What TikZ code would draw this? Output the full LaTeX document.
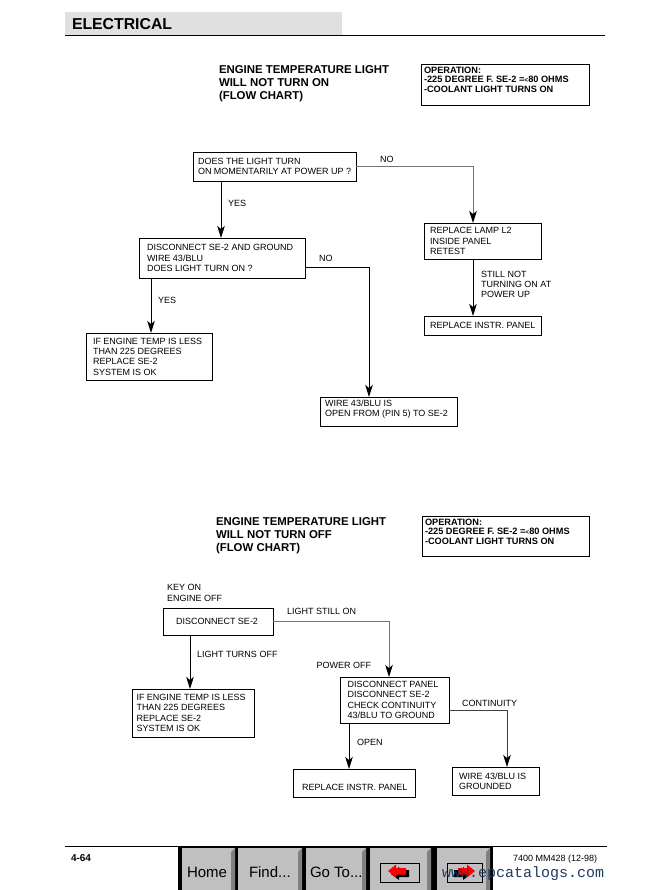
\documentclass[tikz,border=0pt]{standalone}
\usepackage{fontspec}
\setmainfont{Liberation Sans}
\newfontfamily\wmfont{Liberation Mono}
\usetikzlibrary{arrows.meta}
\definecolor{hdrgray}{HTML}{E0E0E0}
\definecolor{btngray}{HTML}{C0C0C0}
\definecolor{btndark}{HTML}{808080}
\definecolor{wmblue}{HTML}{1F3A5F}
\definecolor{arrred}{HTML}{FF0000}
\begin{document}
\begin{tikzpicture}[x=1pt,y=-1pt,
  every node/.style={inner sep=0pt, outer sep=0pt},
  txt/.style={font=\fontsize{9}{10.3}\selectfont, align=left},
  fbox/.style={draw, line width=0.9pt, anchor=north west},
  lbl/.style={txt, anchor=west},
  boxtext/.style={txt, anchor=west},
  ttl/.style={anchor=west, align=left, font=\fontsize{11.4}{13}\selectfont\bfseries},
  optext/.style={anchor=north west, align=left, font=\fontsize{9.2}{9.7}\selectfont\bfseries},
  tip/.style={-{Stealth[length=12pt,width=7.5pt,inset=3pt,color=black]}},
  conn/.style={line width=0.9pt, draw=black, tip},
  gconn/.style={line width=0.9pt, draw=black!55, tip},
  btnlabel/.style={anchor=base west, font=\fontsize{15}{15}\selectfont, text=black},
]
\useasboundingbox (0,0) rectangle (652,890);

% ---------- header ----------
\fill[hdrgray] (65,12) rectangle (342,35);
\node[anchor=base west, font=\fontsize{15.8}{16}\selectfont\bfseries] (hdr) at (72,29.5) {ELECTRICAL};
\draw[line width=1.2pt] (65,35.6) -- (605,35.6);

% ---------- chart 1 ----------
\node[ttl] (t1) at (219,84) {ENGINE TEMPERATURE LIGHT\\WILL NOT TURN ON\\(FLOW CHART)};
\node[fbox, minimum width=168pt, minimum height=41pt] (op1) at (421,64) {};
\node[optext] (op1t) at (424,66.6) {OPERATION:\\-225 DEGREE F. SE-2 ={\fontsize{6.5}{6.5}\selectfont<}80 OHMS\\-COOLANT LIGHT TURNS ON};

\node[fbox, minimum width=163pt, minimum height=29pt] (q1) at (193,152) {};
\node[boxtext] (q1t) at ([xshift=5pt]q1.west) {DOES THE LIGHT TURN\\ON MOMENTARILY AT POWER UP ?};

\node[fbox, minimum width=117pt, minimum height=36pt] (lamp) at (424,223) {};
\node[boxtext] (lampt) at ([xshift=6pt]lamp.west) {REPLACE LAMP L2\\INSIDE PANEL\\RETEST};

\node[fbox, minimum width=117pt, minimum height=19pt] (panel1) at (424,316) {};
\node[boxtext] (panel1t) at ([xshift=6pt]panel1.west) {REPLACE INSTR. PANEL};

\node[fbox, minimum width=166pt, minimum height=40pt] (q2) at (139,238) {};
\node[boxtext] (q2t) at ([xshift=8pt]q2.west) {DISCONNECT SE-2 AND GROUND\\WIRE 43/BLU\\DOES LIGHT TURN ON ?};

\node[fbox, minimum width=126pt, minimum height=47pt] (ok1) at (86,333) {};
\node[boxtext] (ok1t) at ([xshift=7pt]ok1.west) {IF ENGINE TEMP IS LESS\\THAN 225 DEGREES\\REPLACE SE-2\\SYSTEM IS OK};

\node[fbox, minimum width=137pt, minimum height=29pt] (open1) at (320,397) {};
\node[boxtext] (open1t) at ([xshift=5pt,yshift=2pt]open1.west) {WIRE 43/BLU IS\\OPEN FROM (PIN 5) TO SE-2};

\draw[gconn] (q1.east) -| ([xshift=49pt]lamp.north west);
\node[lbl] (no1) at (380,159) {NO};
\draw[conn] ([xshift=28pt]q1.south west) -- ([xshift=28pt]q1.south west |- q2.north);
\node[lbl] (yes1) at (228,203) {YES};
\draw[conn] ([xshift=49pt]lamp.south west) -- ([xshift=49pt]lamp.south west |- panel1.north);
\node[lbl] (still) at (481,284.5) {STILL NOT\\TURNING ON AT\\POWER UP};
\draw[conn] ([xshift=12pt]q2.south west) -- ([xshift=12pt]q2.south west |- ok1.north);
\node[lbl] (yes2) at (158,300) {YES};
\draw[conn] ([yshift=-9.7pt]q2.east) -| ([xshift=49pt]open1.north west);
\node[lbl] (no2) at (319,258) {NO};

% ---------- chart 2 ----------
\node[ttl] (t2) at (216,536) {ENGINE TEMPERATURE LIGHT\\WILL NOT TURN OFF\\(FLOW CHART)};
\node[fbox, minimum width=167pt, minimum height=40pt] (op2) at (422,516) {};
\node[optext] (op2t) at (425,518.6) {OPERATION:\\-225 DEGREE F. SE-2 ={\fontsize{6.5}{6.5}\selectfont<}80 OHMS\\-COOLANT LIGHT TURNS ON};

\node[lbl] (keyon) at (167,593) {KEY ON\\ENGINE OFF};
\node[fbox, minimum width=110pt, minimum height=27pt] (disc) at (163,608) {};
\node[boxtext] (disct) at ([xshift=13pt]disc.west) {DISCONNECT SE-2};

\node[fbox, minimum width=122pt, minimum height=48pt] (ok2) at (132,689) {};
\node[boxtext] (ok2t) at ([xshift=4.5pt]ok2.west) {IF ENGINE TEMP IS LESS\\THAN 225 DEGREES\\REPLACE SE-2\\SYSTEM IS OK};

\node[fbox, minimum width=109pt, minimum height=46pt] (chk) at (340,677) {};
\node[boxtext] (chkt) at ([xshift=7.5pt]chk.west) {DISCONNECT PANEL\\DISCONNECT SE-2\\CHECK CONTINUITY\\43/BLU TO GROUND};

\node[fbox, minimum width=122pt, minimum height=28pt] (panel2) at (293,769) {};
\node[boxtext] (panel2t) at ([xshift=9pt,yshift=-4.5pt]panel2.west) {REPLACE INSTR. PANEL};

\node[fbox, minimum width=87pt, minimum height=28pt] (gnd) at (452,767) {};
\node[boxtext] (gndt) at ([xshift=7pt]gnd.west) {WIRE 43/BLU IS\\GROUNDED};

\draw[gconn] (disc.east) -| ([xshift=49pt]chk.north west);
\node[lbl] (still2) at (287,611) {LIGHT STILL ON};
\node[txt, anchor=east] (poff) at (371,665) {POWER OFF};
\draw[conn] ([xshift=27pt]disc.south west) -- ([xshift=27pt]disc.south west |- ok2.north);
\node[lbl] (turnsoff) at (197,654) {LIGHT TURNS OFF};
\draw[conn] ([xshift=9pt]chk.south west) -- ([xshift=9pt]chk.south west |- panel2.north);
\node[lbl] (openl) at (357,742) {OPEN};
\draw[line width=0.9pt, draw=black!75, tip] ([yshift=-10.7pt]chk.east) -| ([xshift=55pt]gnd.north west);
\node[lbl] (cont) at (462,703) {CONTINUITY};

% ---------- footer ----------
\draw[line width=1pt] (65,846.5) -- (607,846.5);
\node[anchor=base west, font=\fontsize{10}{10}\selectfont\bfseries] (pg) at (71,861) {4-64};
\node[anchor=base west, font=\fontsize{9}{9}\selectfont] (doc) at (513,861) {7400 MM428 (12-98)};

\fill[black] (178,846) rectangle (493,890);
% buttons
\foreach \xa/\xb in {182/235, 238/302, 306/366, 370/431, 437/490}{
  \fill[btngray] (\xa,848) rectangle (\xb,890);
}
\node[btnlabel] (bhome) at (187,877) {Home};
\node[btnlabel] (bfind) at (249,877) {Find...};
\node[btnlabel] (bgoto) at (310,877) {Go To...};
\foreach \xa/\xb in {182/235, 238/302, 306/366, 370/431, 437/490}{
  \fill[btndark] (\xb-4,852) -- (\xb,848) -- (\xb,890) -- (\xb-4,890) -- cycle;
}
% back arrow
\draw[line width=1pt] (380,863) rectangle (419,882);
\fill[black] (391,874) -- (399,867) -- (399,870) -- (409,870) -- (409,877) -- (399,877) -- (399,880) -- cycle;
\fill[arrred] (388,871) -- (396,864.5) -- (396,868) -- (406,868) -- (406,874.5) -- (396,874.5) -- (396,877.5) -- cycle;
% forward arrow
\draw[line width=1pt] (447,863) rectangle (482,882);
\fill[black] (471,874) -- (463,867) -- (463,870) -- (454,870) -- (454,877) -- (463,877) -- (463,880) -- cycle;
\fill[arrred] (475,871) -- (467,864.5) -- (467,868) -- (458,868) -- (458,874.5) -- (467,874.5) -- (467,877.5) -- cycle;
% watermark
\node[anchor=base west, font=\wmfont\fontsize{15}{15}\selectfont, text=wmblue] (wm) at (442,877) {www.epcatalogs.com};
\end{tikzpicture}
\end{document}
